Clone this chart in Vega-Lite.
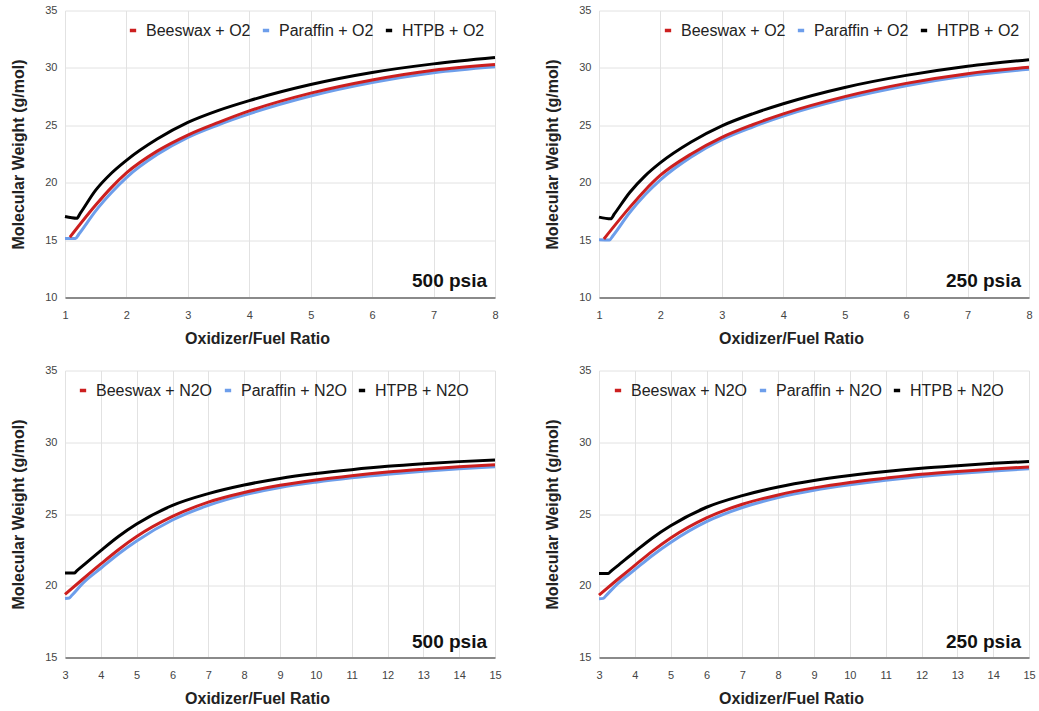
{
  "$schema": "https://vega.github.io/schema/vega-lite/v6.json",
  "background": "white",
  "padding": {"left": 10, "top": 4.5, "right": 5, "bottom": 5},
  "datasets": {
    "o2_500": [
      {"series": "Paraffin + O2", "ratio": 1, "mw": 15.15},
      {"series": "Paraffin + O2", "ratio": 1.17, "mw": 15.15},
      {"series": "Paraffin + O2", "ratio": 1.23, "mw": 15.55},
      {"series": "Paraffin + O2", "ratio": 1.5, "mw": 17.55},
      {"series": "Paraffin + O2", "ratio": 1.75, "mw": 19.1},
      {"series": "Paraffin + O2", "ratio": 2, "mw": 20.45},
      {"series": "Paraffin + O2", "ratio": 2.5, "mw": 22.45},
      {"series": "Paraffin + O2", "ratio": 3, "mw": 23.95},
      {"series": "Paraffin + O2", "ratio": 3.5, "mw": 25.05},
      {"series": "Paraffin + O2", "ratio": 4, "mw": 26.0},
      {"series": "Paraffin + O2", "ratio": 5, "mw": 27.55},
      {"series": "Paraffin + O2", "ratio": 6, "mw": 28.72},
      {"series": "Paraffin + O2", "ratio": 7, "mw": 29.58},
      {"series": "Paraffin + O2", "ratio": 8, "mw": 30.1},
      {"series": "Beeswax + O2", "ratio": 1.08, "mw": 15.25},
      {"series": "Beeswax + O2", "ratio": 1.5, "mw": 18.05},
      {"series": "Beeswax + O2", "ratio": 1.75, "mw": 19.55},
      {"series": "Beeswax + O2", "ratio": 2, "mw": 20.85},
      {"series": "Beeswax + O2", "ratio": 2.5, "mw": 22.75},
      {"series": "Beeswax + O2", "ratio": 3, "mw": 24.15},
      {"series": "Beeswax + O2", "ratio": 3.5, "mw": 25.25},
      {"series": "Beeswax + O2", "ratio": 4, "mw": 26.25},
      {"series": "Beeswax + O2", "ratio": 5, "mw": 27.8},
      {"series": "Beeswax + O2", "ratio": 6, "mw": 28.95},
      {"series": "Beeswax + O2", "ratio": 7, "mw": 29.8},
      {"series": "Beeswax + O2", "ratio": 8, "mw": 30.3},
      {"series": "HTPB + O2", "ratio": 1, "mw": 17.05},
      {"series": "HTPB + O2", "ratio": 1.19, "mw": 16.9},
      {"series": "HTPB + O2", "ratio": 1.25, "mw": 17.35},
      {"series": "HTPB + O2", "ratio": 1.5, "mw": 19.35},
      {"series": "HTPB + O2", "ratio": 1.75, "mw": 20.8},
      {"series": "HTPB + O2", "ratio": 2, "mw": 21.95},
      {"series": "HTPB + O2", "ratio": 2.5, "mw": 23.8},
      {"series": "HTPB + O2", "ratio": 3, "mw": 25.25},
      {"series": "HTPB + O2", "ratio": 3.5, "mw": 26.3},
      {"series": "HTPB + O2", "ratio": 4, "mw": 27.15},
      {"series": "HTPB + O2", "ratio": 5, "mw": 28.55},
      {"series": "HTPB + O2", "ratio": 6, "mw": 29.6},
      {"series": "HTPB + O2", "ratio": 7, "mw": 30.35},
      {"series": "HTPB + O2", "ratio": 8, "mw": 30.9}
    ],
    "o2_250": [
      {"series": "Paraffin + O2", "ratio": 1, "mw": 15.02},
      {"series": "Paraffin + O2", "ratio": 1.17, "mw": 15.0},
      {"series": "Paraffin + O2", "ratio": 1.23, "mw": 15.4},
      {"series": "Paraffin + O2", "ratio": 1.5, "mw": 17.4},
      {"series": "Paraffin + O2", "ratio": 1.75, "mw": 18.95},
      {"series": "Paraffin + O2", "ratio": 2, "mw": 20.25},
      {"series": "Paraffin + O2", "ratio": 2.5, "mw": 22.25},
      {"series": "Paraffin + O2", "ratio": 3, "mw": 23.75},
      {"series": "Paraffin + O2", "ratio": 3.5, "mw": 24.85},
      {"series": "Paraffin + O2", "ratio": 4, "mw": 25.8},
      {"series": "Paraffin + O2", "ratio": 5, "mw": 27.3},
      {"series": "Paraffin + O2", "ratio": 6, "mw": 28.45},
      {"series": "Paraffin + O2", "ratio": 7, "mw": 29.32},
      {"series": "Paraffin + O2", "ratio": 8, "mw": 29.88},
      {"series": "Beeswax + O2", "ratio": 1.08, "mw": 15.1},
      {"series": "Beeswax + O2", "ratio": 1.5, "mw": 17.85},
      {"series": "Beeswax + O2", "ratio": 1.75, "mw": 19.35},
      {"series": "Beeswax + O2", "ratio": 2, "mw": 20.65},
      {"series": "Beeswax + O2", "ratio": 2.5, "mw": 22.5},
      {"series": "Beeswax + O2", "ratio": 3, "mw": 23.95},
      {"series": "Beeswax + O2", "ratio": 3.5, "mw": 25.05},
      {"series": "Beeswax + O2", "ratio": 4, "mw": 26.0},
      {"series": "Beeswax + O2", "ratio": 5, "mw": 27.5},
      {"series": "Beeswax + O2", "ratio": 6, "mw": 28.65},
      {"series": "Beeswax + O2", "ratio": 7, "mw": 29.5},
      {"series": "Beeswax + O2", "ratio": 8, "mw": 30.05},
      {"series": "HTPB + O2", "ratio": 1, "mw": 17.0},
      {"series": "HTPB + O2", "ratio": 1.19, "mw": 16.85},
      {"series": "HTPB + O2", "ratio": 1.25, "mw": 17.28},
      {"series": "HTPB + O2", "ratio": 1.5, "mw": 19.15},
      {"series": "HTPB + O2", "ratio": 1.75, "mw": 20.6},
      {"series": "HTPB + O2", "ratio": 2, "mw": 21.75},
      {"series": "HTPB + O2", "ratio": 2.5, "mw": 23.55},
      {"series": "HTPB + O2", "ratio": 3, "mw": 24.95},
      {"series": "HTPB + O2", "ratio": 3.5, "mw": 26.0},
      {"series": "HTPB + O2", "ratio": 4, "mw": 26.88},
      {"series": "HTPB + O2", "ratio": 5, "mw": 28.3},
      {"series": "HTPB + O2", "ratio": 6, "mw": 29.35},
      {"series": "HTPB + O2", "ratio": 7, "mw": 30.15},
      {"series": "HTPB + O2", "ratio": 8, "mw": 30.72}
    ],
    "n2o_500": [
      {"series": "Paraffin + N2O", "ratio": 3, "mw": 19.12},
      {"series": "Paraffin + N2O", "ratio": 3.12, "mw": 19.15},
      {"series": "Paraffin + N2O", "ratio": 3.18, "mw": 19.3},
      {"series": "Paraffin + N2O", "ratio": 3.5, "mw": 20.18},
      {"series": "Paraffin + N2O", "ratio": 4, "mw": 21.22},
      {"series": "Paraffin + N2O", "ratio": 4.5, "mw": 22.23},
      {"series": "Paraffin + N2O", "ratio": 5, "mw": 23.12},
      {"series": "Paraffin + N2O", "ratio": 6, "mw": 24.58},
      {"series": "Paraffin + N2O", "ratio": 7, "mw": 25.6},
      {"series": "Paraffin + N2O", "ratio": 8, "mw": 26.33},
      {"series": "Paraffin + N2O", "ratio": 9, "mw": 26.85},
      {"series": "Paraffin + N2O", "ratio": 10, "mw": 27.22},
      {"series": "Paraffin + N2O", "ratio": 11, "mw": 27.52},
      {"series": "Paraffin + N2O", "ratio": 12, "mw": 27.77},
      {"series": "Paraffin + N2O", "ratio": 13, "mw": 27.98},
      {"series": "Paraffin + N2O", "ratio": 14, "mw": 28.15},
      {"series": "Paraffin + N2O", "ratio": 15, "mw": 28.3},
      {"series": "Beeswax + N2O", "ratio": 3, "mw": 19.4},
      {"series": "Beeswax + N2O", "ratio": 3.5, "mw": 20.47},
      {"series": "Beeswax + N2O", "ratio": 4, "mw": 21.52},
      {"series": "Beeswax + N2O", "ratio": 4.5, "mw": 22.53},
      {"series": "Beeswax + N2O", "ratio": 5, "mw": 23.43},
      {"series": "Beeswax + N2O", "ratio": 6, "mw": 24.83},
      {"series": "Beeswax + N2O", "ratio": 7, "mw": 25.83},
      {"series": "Beeswax + N2O", "ratio": 8, "mw": 26.5},
      {"series": "Beeswax + N2O", "ratio": 9, "mw": 27.0},
      {"series": "Beeswax + N2O", "ratio": 10, "mw": 27.37},
      {"series": "Beeswax + N2O", "ratio": 11, "mw": 27.67},
      {"series": "Beeswax + N2O", "ratio": 12, "mw": 27.92},
      {"series": "Beeswax + N2O", "ratio": 13, "mw": 28.12},
      {"series": "Beeswax + N2O", "ratio": 14, "mw": 28.3},
      {"series": "Beeswax + N2O", "ratio": 15, "mw": 28.44},
      {"series": "HTPB + N2O", "ratio": 3, "mw": 20.88},
      {"series": "HTPB + N2O", "ratio": 3.26, "mw": 20.88},
      {"series": "HTPB + N2O", "ratio": 3.32, "mw": 21.02},
      {"series": "HTPB + N2O", "ratio": 3.5, "mw": 21.4},
      {"series": "HTPB + N2O", "ratio": 4, "mw": 22.45},
      {"series": "HTPB + N2O", "ratio": 4.5, "mw": 23.45},
      {"series": "HTPB + N2O", "ratio": 5, "mw": 24.3},
      {"series": "HTPB + N2O", "ratio": 6, "mw": 25.6},
      {"series": "HTPB + N2O", "ratio": 7, "mw": 26.42},
      {"series": "HTPB + N2O", "ratio": 8, "mw": 27.02},
      {"series": "HTPB + N2O", "ratio": 9, "mw": 27.48},
      {"series": "HTPB + N2O", "ratio": 10, "mw": 27.82},
      {"series": "HTPB + N2O", "ratio": 11, "mw": 28.09},
      {"series": "HTPB + N2O", "ratio": 12, "mw": 28.32},
      {"series": "HTPB + N2O", "ratio": 13, "mw": 28.5},
      {"series": "HTPB + N2O", "ratio": 14, "mw": 28.65},
      {"series": "HTPB + N2O", "ratio": 15, "mw": 28.77}
    ],
    "n2o_250": [
      {"series": "Paraffin + N2O", "ratio": 3, "mw": 19.1},
      {"series": "Paraffin + N2O", "ratio": 3.12, "mw": 19.12},
      {"series": "Paraffin + N2O", "ratio": 3.18, "mw": 19.27},
      {"series": "Paraffin + N2O", "ratio": 3.5, "mw": 20.1},
      {"series": "Paraffin + N2O", "ratio": 4, "mw": 21.12},
      {"series": "Paraffin + N2O", "ratio": 4.5, "mw": 22.13},
      {"series": "Paraffin + N2O", "ratio": 5, "mw": 23.02},
      {"series": "Paraffin + N2O", "ratio": 6, "mw": 24.47},
      {"series": "Paraffin + N2O", "ratio": 7, "mw": 25.45},
      {"series": "Paraffin + N2O", "ratio": 8, "mw": 26.15},
      {"series": "Paraffin + N2O", "ratio": 9, "mw": 26.65},
      {"series": "Paraffin + N2O", "ratio": 10, "mw": 27.03},
      {"series": "Paraffin + N2O", "ratio": 11, "mw": 27.35},
      {"series": "Paraffin + N2O", "ratio": 12, "mw": 27.62},
      {"series": "Paraffin + N2O", "ratio": 13, "mw": 27.83},
      {"series": "Paraffin + N2O", "ratio": 14, "mw": 28.0},
      {"series": "Paraffin + N2O", "ratio": 15, "mw": 28.15},
      {"series": "Beeswax + N2O", "ratio": 3, "mw": 19.35},
      {"series": "Beeswax + N2O", "ratio": 3.5, "mw": 20.4},
      {"series": "Beeswax + N2O", "ratio": 4, "mw": 21.42},
      {"series": "Beeswax + N2O", "ratio": 4.5, "mw": 22.43},
      {"series": "Beeswax + N2O", "ratio": 5, "mw": 23.33},
      {"series": "Beeswax + N2O", "ratio": 6, "mw": 24.73},
      {"series": "Beeswax + N2O", "ratio": 7, "mw": 25.68},
      {"series": "Beeswax + N2O", "ratio": 8, "mw": 26.33},
      {"series": "Beeswax + N2O", "ratio": 9, "mw": 26.82},
      {"series": "Beeswax + N2O", "ratio": 10, "mw": 27.2},
      {"series": "Beeswax + N2O", "ratio": 11, "mw": 27.5},
      {"series": "Beeswax + N2O", "ratio": 12, "mw": 27.77},
      {"series": "Beeswax + N2O", "ratio": 13, "mw": 27.97},
      {"series": "Beeswax + N2O", "ratio": 14, "mw": 28.13},
      {"series": "Beeswax + N2O", "ratio": 15, "mw": 28.28},
      {"series": "HTPB + N2O", "ratio": 3, "mw": 20.85},
      {"series": "HTPB + N2O", "ratio": 3.26, "mw": 20.85},
      {"series": "HTPB + N2O", "ratio": 3.32, "mw": 20.99},
      {"series": "HTPB + N2O", "ratio": 3.5, "mw": 21.35},
      {"series": "HTPB + N2O", "ratio": 4, "mw": 22.37},
      {"series": "HTPB + N2O", "ratio": 4.5, "mw": 23.35},
      {"series": "HTPB + N2O", "ratio": 5, "mw": 24.18},
      {"series": "HTPB + N2O", "ratio": 6, "mw": 25.47},
      {"series": "HTPB + N2O", "ratio": 7, "mw": 26.28},
      {"series": "HTPB + N2O", "ratio": 8, "mw": 26.88},
      {"series": "HTPB + N2O", "ratio": 9, "mw": 27.33},
      {"series": "HTPB + N2O", "ratio": 10, "mw": 27.68},
      {"series": "HTPB + N2O", "ratio": 11, "mw": 27.96},
      {"series": "HTPB + N2O", "ratio": 12, "mw": 28.19},
      {"series": "HTPB + N2O", "ratio": 13, "mw": 28.37},
      {"series": "HTPB + N2O", "ratio": 14, "mw": 28.53},
      {"series": "HTPB + N2O", "ratio": 15, "mw": 28.66}
    ]
  },
  "columns": 2,
  "spacing": {"row": 73, "column": 104},
  "bounds": "flush",
  "resolve": {"scale": {"color": "independent", "x": "independent", "y": "independent"}, "legend": {"color": "independent"}},
  "concat": [
    {
      "width": 430, "height": 287,
      "layer": [
        {
          "data": {"name": "o2_500"},
          "mark": {"type": "line", "strokeWidth": 3, "interpolate": "monotone"},
          "encoding": {
            "x": {"field": "ratio", "type": "quantitative", "title": "Oxidizer/Fuel Ratio", "scale": {"domain": [1, 8], "nice": false, "zero": false}, "axis": {"values": [1, 2, 3, 4, 5, 6, 7, 8], "tickCount": 8, "labelOverlap": false, "format": "d"}},
            "y": {"field": "mw", "type": "quantitative", "title": "Molecular Weight (g/mol)", "scale": {"domain": [10, 35], "nice": false, "zero": false}, "axis": {"values": [10, 15, 20, 25, 30, 35], "tickCount": 6}},
            "color": {"field": "series", "type": "nominal", "scale": {"domain": ["Beeswax + O2", "Paraffin + O2", "HTPB + O2"], "range": ["#cc1f1f", "#6d9eeb", "#000000"]}, "legend": {"legendX": 60, "legendY": 12}}
          }
        },
        {
          "data": {"values": [{"label": "500 psia"}]},
          "mark": {"type": "text", "align": "right", "baseline": "alphabetic", "dx": -8, "dy": -11, "fontSize": 19, "fontWeight": "bold", "font": "Liberation Sans", "color": "#111"},
          "encoding": {"text": {"field": "label"}, "x": {"datum": 8, "type": "quantitative"}, "y": {"datum": 10, "type": "quantitative"}}
        }
      ]
    },
    {
      "width": 430, "height": 287,
      "layer": [
        {
          "data": {"name": "o2_250"},
          "mark": {"type": "line", "strokeWidth": 3, "interpolate": "monotone"},
          "encoding": {
            "x": {"field": "ratio", "type": "quantitative", "title": "Oxidizer/Fuel Ratio", "scale": {"domain": [1, 8], "nice": false, "zero": false}, "axis": {"values": [1, 2, 3, 4, 5, 6, 7, 8], "tickCount": 8, "labelOverlap": false, "format": "d"}},
            "y": {"field": "mw", "type": "quantitative", "title": "Molecular Weight (g/mol)", "scale": {"domain": [10, 35], "nice": false, "zero": false}, "axis": {"values": [10, 15, 20, 25, 30, 35], "tickCount": 6}},
            "color": {"field": "series", "type": "nominal", "scale": {"domain": ["Beeswax + O2", "Paraffin + O2", "HTPB + O2"], "range": ["#cc1f1f", "#6d9eeb", "#000000"]}, "legend": {"legendX": 61, "legendY": 12}}
          }
        },
        {
          "data": {"values": [{"label": "250 psia"}]},
          "mark": {"type": "text", "align": "right", "baseline": "alphabetic", "dx": -8, "dy": -11, "fontSize": 19, "fontWeight": "bold", "font": "Liberation Sans", "color": "#111"},
          "encoding": {"text": {"field": "label"}, "x": {"datum": 8, "type": "quantitative"}, "y": {"datum": 10, "type": "quantitative"}}
        }
      ]
    },
    {
      "width": 430, "height": 287,
      "layer": [
        {
          "data": {"name": "n2o_500"},
          "mark": {"type": "line", "strokeWidth": 3, "interpolate": "monotone"},
          "encoding": {
            "x": {"field": "ratio", "type": "quantitative", "title": "Oxidizer/Fuel Ratio", "scale": {"domain": [3, 15], "nice": false, "zero": false}, "axis": {"values": [3, 4, 5, 6, 7, 8, 9, 10, 11, 12, 13, 14, 15], "tickCount": 13, "labelOverlap": false, "format": "d"}},
            "y": {"field": "mw", "type": "quantitative", "title": "Molecular Weight (g/mol)", "scale": {"domain": [15, 35], "nice": false, "zero": false}, "axis": {"values": [15, 20, 25, 30, 35], "tickCount": 5}},
            "color": {"field": "series", "type": "nominal", "scale": {"domain": ["Beeswax + N2O", "Paraffin + N2O", "HTPB + N2O"], "range": ["#cc1f1f", "#6d9eeb", "#000000"]}, "legend": {"legendX": 10, "legendY": 12}}
          }
        },
        {
          "data": {"values": [{"label": "500 psia"}]},
          "mark": {"type": "text", "align": "right", "baseline": "alphabetic", "dx": -8, "dy": -10, "fontSize": 19, "fontWeight": "bold", "font": "Liberation Sans", "color": "#111"},
          "encoding": {"text": {"field": "label"}, "x": {"datum": 15, "type": "quantitative"}, "y": {"datum": 15, "type": "quantitative"}}
        }
      ]
    },
    {
      "width": 430, "height": 287,
      "layer": [
        {
          "data": {"name": "n2o_250"},
          "mark": {"type": "line", "strokeWidth": 3, "interpolate": "monotone"},
          "encoding": {
            "x": {"field": "ratio", "type": "quantitative", "title": "Oxidizer/Fuel Ratio", "scale": {"domain": [3, 15], "nice": false, "zero": false}, "axis": {"values": [3, 4, 5, 6, 7, 8, 9, 10, 11, 12, 13, 14, 15], "tickCount": 13, "labelOverlap": false, "format": "d"}},
            "y": {"field": "mw", "type": "quantitative", "title": "Molecular Weight (g/mol)", "scale": {"domain": [15, 35], "nice": false, "zero": false}, "axis": {"values": [15, 20, 25, 30, 35], "tickCount": 5}},
            "color": {"field": "series", "type": "nominal", "scale": {"domain": ["Beeswax + N2O", "Paraffin + N2O", "HTPB + N2O"], "range": ["#cc1f1f", "#6d9eeb", "#000000"]}, "legend": {"legendX": 11, "legendY": 12}}
          }
        },
        {
          "data": {"values": [{"label": "250 psia"}]},
          "mark": {"type": "text", "align": "right", "baseline": "alphabetic", "dx": -8, "dy": -10, "fontSize": 19, "fontWeight": "bold", "font": "Liberation Sans", "color": "#111"},
          "encoding": {"text": {"field": "label"}, "x": {"datum": 15, "type": "quantitative"}, "y": {"datum": 15, "type": "quantitative"}}
        }
      ]
    }
  ],
  "config": {
    "font": "Liberation Sans",
    "view": {"stroke": null},
    "axis": {
      "grid": true, "gridColor": "#e2e2e2", "gridWidth": 1,
      "ticks": false, "tickSize": 0,
      "labelFont": "Liberation Sans", "labelFontSize": 11, "labelColor": "#444",
      "titleFont": "Liberation Sans", "titleFontSize": 16, "titleFontWeight": "bold", "titleColor": "#222"
    },
    "axisX": {"domain": true, "domainColor": "#8a8a8a", "domainWidth": 2, "labelPadding": 12, "titlePadding": 10, "titleX": 192, "labelFlush": false, "labelOverlap": false},
    "axisY": {"domain": false, "labelPadding": 8, "titlePadding": 18},
    "legend": {
      "orient": "none", "direction": "horizontal", "title": null, "padding": 0,
      "labelFont": "Liberation Sans", "labelFontSize": 16, "labelColor": "#222", "labelOffset": 5,
      "symbolType": "stroke", "symbolSize": 40, "symbolStrokeWidth": 3.5,
      "columnPadding": 4, "labelLimit": 400
    }
  }
}
